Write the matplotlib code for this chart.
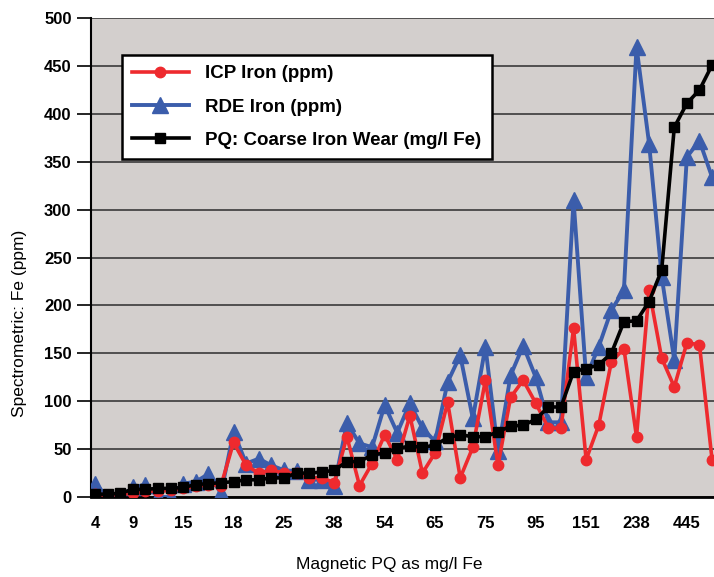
import matplotlib
matplotlib.use("Agg")
import matplotlib.pyplot as plt
import numpy as np

# x-axis tick labels (PQ values shown under every few samples)
tick_labels = ["4", "9", "15", "18", "25", "38", "54", "65", "75", "95", "151", "238", "445"]
tick_idx = [0, 3, 7, 11, 15, 19, 23, 27, 31, 35, 39, 43, 47]

# PQ: coarse iron wear (mg/l Fe)
pq = [3, 3, 4, 8, 8, 9, 9, 10, 13, 14, 15, 16, 18, 18, 20, 20, 25, 25, 26, 28,
      37, 37, 44, 46, 51, 53, 52, 54, 62, 65, 63, 63, 68, 74, 75, 81, 94, 94, 131, 134,
      138, 150, 183, 184, 204, 237, 386, 411, 425, 451]

# ICP iron (ppm)
icp = [3, 2, 3, 4, 6, 6, 7, 9, 11, 13, 12, 57, 33, 25, 28, 25, 25, 20, 20, 15,
       63, 12, 35, 65, 39, 85, 25, 46, 99, 20, 52, 122, 33, 104, 122, 98, 72, 72, 176, 39,
       75, 141, 155, 63, 216, 145, 115, 161, 159, 39]

# RDE iron (ppm)
rde = [14, 0, 0, 10, 13, 0, 0, 14, 16, 24, 4, 68, 35, 40, 33, 28, 27, 18, 18, 12,
       77, 56, 52, 96, 67, 98, 72, 58, 120, 148, 82, 157, 48, 127, 158, 125, 78, 78, 310, 125,
       157, 195, 216, 470, 369, 230, 143, 355, 372, 334]

x = np.arange(len(pq))

plt.rcParams["font.family"] = ["Liberation Sans Narrow", "Liberation Sans", "DejaVu Sans"]

fig = plt.figure(figsize=(7.14, 5.77), dpi=100)
ax = fig.add_axes([0.1275, 0.1386, 0.895, 0.830])
ax.set_facecolor("#d3cfcd")

ax.plot(x, rde, color="#3b5dab", lw=2.8, marker="^", ms=12, zorder=3,
        label="RDE Iron (ppm)")
ax.plot(x, icp, color="#ee2a2e", lw=2.6, marker="o", ms=7.5, zorder=4,
        label="ICP Iron (ppm)")
ax.plot(x, pq, color="black", lw=2.6, marker="s", ms=7.5, zorder=5,
        label="PQ: Coarse Iron Wear (mg/l Fe)")

ax.set_ylim(0, 500)
ax.set_xlim(-0.32, 50.43)
ax.set_yticks(np.arange(0, 501, 50))
ax.yaxis.grid(True, color="#3a3a3a", lw=1.2)
ax.set_axisbelow(True)
ax.set_xticks(tick_idx)
ax.set_xticklabels(tick_labels)
ax.tick_params(axis="x", length=0, pad=14)
ax.tick_params(axis="y", length=10, width=1.2, direction="out", pad=4)
for lbl in ax.get_xticklabels() + ax.get_yticklabels():
    lbl.set_fontsize(12)
    lbl.set_fontweight("bold")
for side in ["top", "right"]:
    ax.spines[side].set_visible(False)
ax.spines["left"].set_linewidth(1.5)
ax.spines["bottom"].set_linewidth(2)

fig.text(0.028, 0.44, "Spectrometric: Fe (ppm)", rotation=90, ha="center", va="center",
         fontsize=12.5)
fig.text(0.545, 0.021, "Magnetic PQ as mg/l Fe", ha="center", va="center", fontsize=12.5)

h, l = ax.get_legend_handles_labels()
order = [1, 0, 2]
leg = ax.legend([h[i] for i in order], [l[i] for i in order],
                loc="upper left", bbox_to_anchor=(122 / 714, 1 - 55 / 577),
                bbox_transform=fig.transFigure, fancybox=False, framealpha=1,
                edgecolor="black", prop={"size": 13.5, "weight": "bold"},
                handlelength=3.0, handletextpad=0.9, borderpad=0.55,
                labelspacing=0.85, borderaxespad=0)
leg.get_frame().set_linewidth(1.8)

fig.savefig("out.png", dpi=100)
